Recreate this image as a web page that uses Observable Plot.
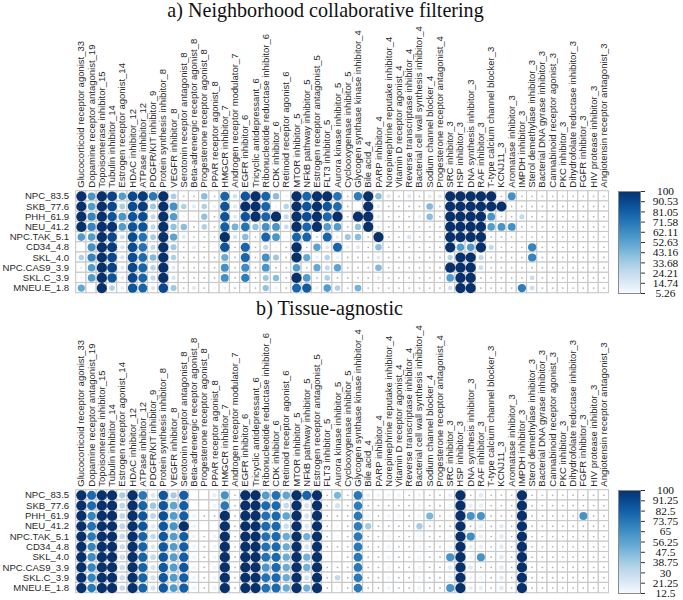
<!DOCTYPE html>
<html><head><meta charset="utf-8">
<script src="https://cdn.jsdelivr.net/npm/d3@7"></script>
<script src="https://cdn.jsdelivr.net/npm/@observablehq/plot@0.6"></script>
<style>
html,body{margin:0;padding:0;background:#fff}
#root{position:relative;width:683px;height:600px;overflow:hidden}
#root svg{position:absolute;display:block;background:transparent;overflow:visible}
.t{position:absolute;font-family:"Liberation Serif",serif;font-size:20.1px;color:#111;white-space:nowrap;transform:translateX(-50%);line-height:24px}
</style></head><body><div id="root"></div>
<script>
const columns = ["Glucocorticoid receptor agonist_33","Dopamine receptor antagonist_19","Topoisomerase inhibitor_15","Tubulin inhibitor_14","Estrogen receptor agonist_14","HDAC inhibitor_12","ATPase inhibitor_12","PDGFR/KIT inhibitor_9","Protein synthesis inhibitor_8","VEGFR inhibitor_8","Serotonin receptor antagonist_8","Beta-adrenergic receptor agonist_8","Progesterone receptor agonist_8","PPAR receptor agonist_8","HMGCR inhibitor_7","Androgen receptor modulator_7","EGFR inhibitor_6","Tricyclic antidepressant_6","Ribonucleotide reductase inhibitor_6","CDK inhibitor_6","Retinoid receptor agonist_6","MTOR inhibitor_5","NFkB pathway inhibitor_5","Estrogen receptor antagonist_5","FLT3 inhibitor_5","Aurora kinase inhibitor_5","Cyclooxygenase inhibitor_5","Glycogen synthase kinase inhibitor_4","Bile acid_4","PARP inhibitor_4","Norepinephrine reputake inhibitor_4","Vitamin D receptor agonist_4","Reverse transcriptase inhibitor_4","Bacterial cell wall synthesis inhibitor_4","Sodium channel blocker_4","Progesterone receptor antagonist_4","SRC inhibitor_3","HSP inhibitor_3","DNA synthesis inhibitor_3","RAF inhibitor_3","T-type calcium channel blocker_3","KCNJ11_3","Aromatase inhibitor_3","IMPDH inhibitor_3","Sterol demethylase inhibitor_3","Bacterial DNA gyrase inhibitor_3","Cannabinoid receptor agonist_3","PKC inhibitor_3","Dihydrofolate reductase inhibitor_3","FGFR inhibitor_3","HIV protease inhibitor_3","Angiotensin receptor antagonist_3"];
const rowNames = ["NPC_83.5","SKB_77.6","PHH_61.9","NEU_41.2","NPC.TAK_5.1","CD34_4.8","SKL_4.0","NPC.CAS9_3.9","SKL.C_3.9","MNEU.E_1.8"];

// a) Neighborhood collaborative filtering (a value at the scale floor is a tiny grey dot, null is an empty cell)
const aNPC  = [100,58,100,92,55,90,95,70,100,32,5,5,40,5,78,20,85,100, 78,40,8,100,78,100,100,72,5,68,100,40,15,5,15,5,14,14,100,100, 100,100,100,5,60,5,5,5,5,5,5,5,5,5];
const aSKB  = [100,55,100,90,32,88,95,35,100,60,30,14,30,10,85,15,100,100, 78,8,28,100,85,100,85,75,5,null,100,14,5,5,5,5,42,5,100,100, 100,100,100,100,5,5,5,5,5,5,5,5,5,5];
const aPHH  = [100,65,100,85,58,85,88,25,100,55,8,8,38,5,85,15,85,100, 78,100,25,100,88,100,78,100,5,100,100,14,5,5,5,12,40,5,100,100, 100,100,58,5,5,25,5,5,5,5,5,5,5,5];
const aNEU  = [100,65,100,98,55,85,85,25,100,38,40,5,30,5,80,45,72,38, 60,58,22,100,78,100,55,55,5,38,100,12,5,5,5,5,5,5,100,100, 100,100,55,58,60,5,5,5,5,5,5,5,5,5];
const aTAK  = [55,55,100,90,22,88,72,33,100,52,15,5,5,5,100,18,40,5, 78,58,8,78,78,5,78,12,35,40,5,100,5,5,18,5,5,5,100,100, 100,100,5,5,5,5,5,5,5,5,5,5,5,5];
const aCD34 = [null,60,100,95,18,88,72,25,100,35,5,14,5,8,85,5,78,5, 25,8,5,100,5,52,14,78,12,15,5,40,5,5,5,5,5,5,100,55, 55,100,25,5,5,5,65,5,5,5,5,5,5,5];
const aSKL  = [30,65,100,90,18,88,75,42,100,30,5,5,5,5,48,5,78,5, 60,35,5,100,50,10,28,10,5,5,5,14,5,5,5,5,5,5,28,100, 100,25,5,5,5,5,65,5,5,5,5,5,5,5];
const aCAS9 = [10,55,100,92,15,90,78,28,100,15,5,5,5,5,60,5,62,5, 58,5,5,55,5,50,25,52,5,5,5,42,5,5,5,5,5,5,100,100, 100,22,5,5,5,5,5,5,5,5,5,5,5,5];
const aSKLC = [8,55,100,85,14,90,78,25,100,18,5,5,5,5,60,5,68,5, 35,40,5,100,55,5,30,5,5,5,5,14,5,5,5,5,5,5,55,100, 100,5,5,5,5,5,22,5,5,5,5,5,5,5];
const aMNEU = [50,null,100,30,12,85,78,18,90,35,5,15,5,8,10,5,10,5, 38,10,5,78,82,12,55,30,5,45,5,5,5,5,5,5,5,5,20,100, 100,5,5,5,5,68,22,5,5,5,5,5,5,5];
const panelA = [aNPC,aSKB,aPHH,aNEU,aTAK,aCD34,aSKL,aCAS9,aSKLC,aMNEU];

// b) Tissue-agnostic
const bNPC  = [100,78,100,100,38,100,72,22,85,38,82,null,null,18,62,12,100,100, 58,75,55,100,80,100,12,48,12,72,18,15,15,15,12,15,12,12,18,100, 12,20,12,12,12,100,12,12,12,12,12,12,12,12];
const bSKB  = [100,78,100,100,32,100,80,40,85,55,82,null,null,15,72,12,100,100, 78,78,30,100,25,100,12,25,12,70,12,12,12,12,12,15,12,12,15,100, 18,18,12,12,12,100,12,12,12,12,12,12,12,12];
const bPHH  = [100,68,100,100,32,100,85,32,88,58,82,15,12,12,100,12,100,100, 75,78,55,100,25,100,12,12,12,72,15,12,15,15,12,15,48,12,15,100, 62,62,12,12,12,100,12,12,12,12,12,62,12,12];
const bNEU  = [100,75,100,100,32,100,85,20,85,62,100,15,null,null,100,12,100,100, 78,78,28,100,22,100,12,13,12,70,38,12,12,12,12,38,12,12,12,100, 12,18,12,20,12,100,12,12,12,12,12,12,12,12];
const bTAK  = [100,72,100,100,30,100,80,30,85,58,82,15,12,15,100,12,100,100, 75,78,52,100,50,100,12,13,12,72,12,12,15,12,12,15,12,12,15,100, 65,18,12,20,12,100,12,12,12,12,12,12,12,12];
const bCD34 = [100,68,100,100,28,100,80,22,85,58,82,15,12,15,100,12,100,100, 75,78,52,100,25,100,12,12,12,72,12,12,15,12,12,15,12,12,15,100, 18,18,12,20,12,100,12,12,12,12,12,12,12,12];
const bSKL  = [100,65,100,100,28,100,80,30,85,58,82,15,12,15,100,12,100,100, 75,78,52,100,50,100,13,13,12,72,12,12,15,12,12,15,12,12,62,100, 15,62,12,20,12,100,12,12,12,12,12,12,12,12];
const bCAS9 = [100,68,100,100,28,100,80,25,85,58,85,15,12,15,100,12,100,100, 60,78,52,100,50,100,12,12,12,72,12,12,15,12,12,15,12,12,20,100, 20,12,12,20,12,100,12,12,12,12,12,12,12,12];
const bSKLC = [100,68,100,100,28,100,80,25,85,58,82,15,12,15,100,12,100,100, 75,78,52,100,25,100,12,30,12,72,12,12,15,12,12,15,12,12,15,100, 15,15,12,20,12,100,12,12,12,12,12,12,12,12];
const bMNEU = [100,72,100,100,30,100,80,25,85,58,82,15,12,15,100,12,100,100, 75,78,52,100,50,100,12,13,12,72,12,12,15,12,12,15,12,12,62,100, 18,18,12,20,12,100,12,12,12,12,12,12,12,12];
const panelB = [bNPC,bSKB,bPHH,bNEU,bTAK,bCD34,bSKL,bCAS9,bSKLC,bMNEU];

const ticksA = [100,90.53,81.05,71.58,62.11,52.63,43.16,33.68,24.21,14.74,5.26];
const ticksB = [100,91.25,82.5,73.75,65,56.25,47.5,38.75,30,21.25,12.5];

const titleA = "a) Neighborhood collaborative filtering";
const titleB = "b) Tissue-agnostic";

const root = document.getElementById("root");
const SANS = '"Liberation Sans",Arial,sans-serif';
const SERIF = '"Liberation Serif",serif';

function tidy(matrix){
  const out = [];
  matrix.forEach((vals,i)=>vals.forEach((v,j)=>out.push({row:rowNames[i],col:columns[j],v})));
  return out;
}

function panel(matrix, ticks, svgTop, h, mt, mb, title, titleX, titleY){
  const low = ticks[ticks.length-1];
  const cells = tidy(matrix);
  const dom = [low,100];
  const colorOpts = {type:"linear",domain:dom,interpolate:t=>d3.interpolateBlues(Math.pow(t,0.85))};
  const p = Plot.plot({
    width:683,height:h,marginLeft:75.7,marginRight:74.5,marginTop:mt,marginBottom:mb,
    style:{fontFamily:SANS,background:"transparent"},
    x:{domain:columns,padding:0,round:false,axis:null},
    y:{domain:rowNames,padding:0,round:false,axis:null},
    color:colorOpts,
    r:{type:"sqrt",domain:[0,100],range:[0,5.1]},
    marks:[
      Plot.cell(cells,{x:"col",y:"row",fill:"#fff",stroke:"#c8c8c8",strokeWidth:1.1}),
      Plot.axisX({anchor:"top",tickSize:0,tickPadding:3.5,tickRotate:-90,fontSize:9.5,fill:"#2a2a2a",label:null,textOverflow:null}),
      Plot.axisY({anchor:"left",tickSize:0,tickPadding:7,fontSize:9.6,fill:"#2a2a2a",label:null}),
      Plot.dot(cells.filter(d=>d.v!=null && d.v<=low),{x:"col",y:"row",r:0.9,fill:"#b5b5b5"}),
      Plot.dot(cells.filter(d=>d.v!=null && d.v>low),{x:"col",y:"row",r:"v",fill:"v"})
    ]
  });
  p.style.left="0px"; p.style.top=svgTop+"px";
  root.appendChild(p);

  const barTop = svgTop+mt, barH = h-mt-mb;
  const samples = d3.range(0,102).map(i=>({y1:low+(100-low)*i/102,y2:low+(100-low)*(i+1.6)/102}));
  const leg = Plot.plot({
    width:83,height:barH+16,marginTop:8,marginBottom:8,marginLeft:18,marginRight:43,
    style:{fontFamily:SERIF,background:"transparent"},
    x:{axis:null,domain:[0,1]},
    y:{domain:dom,axis:null,clamp:true},
    color:colorOpts,
    marks:[
      Plot.rect(samples,{x1:0,x2:1,y1:"y1",y2:"y2",fill:"y1",shapeRendering:"crispEdges"}),
      Plot.frame({stroke:"#8a8a8a",strokeWidth:1}),
      Plot.axisY(ticks,{anchor:"right",tickSize:4,tickPadding:21,textAnchor:"middle",tickFormat:d=>String(d),fontSize:11.4,fill:"#111",stroke:"#333",label:null})
    ]
  });
  leg.style.left="600px"; leg.style.top=(barTop-8)+"px";
  root.appendChild(leg);

  const t=document.createElement("div");
  t.className="t"; t.textContent=title;
  t.style.left=titleX+"px"; t.style.top=titleY+"px";
  root.appendChild(t);
}
panel(panelA,ticksA,0,298,190.7,5.3,titleA,325.5,-2);
panel(panelB,ticksB,298,302,191.7,7.3,titleB,329.5,296);
</script></body></html>
